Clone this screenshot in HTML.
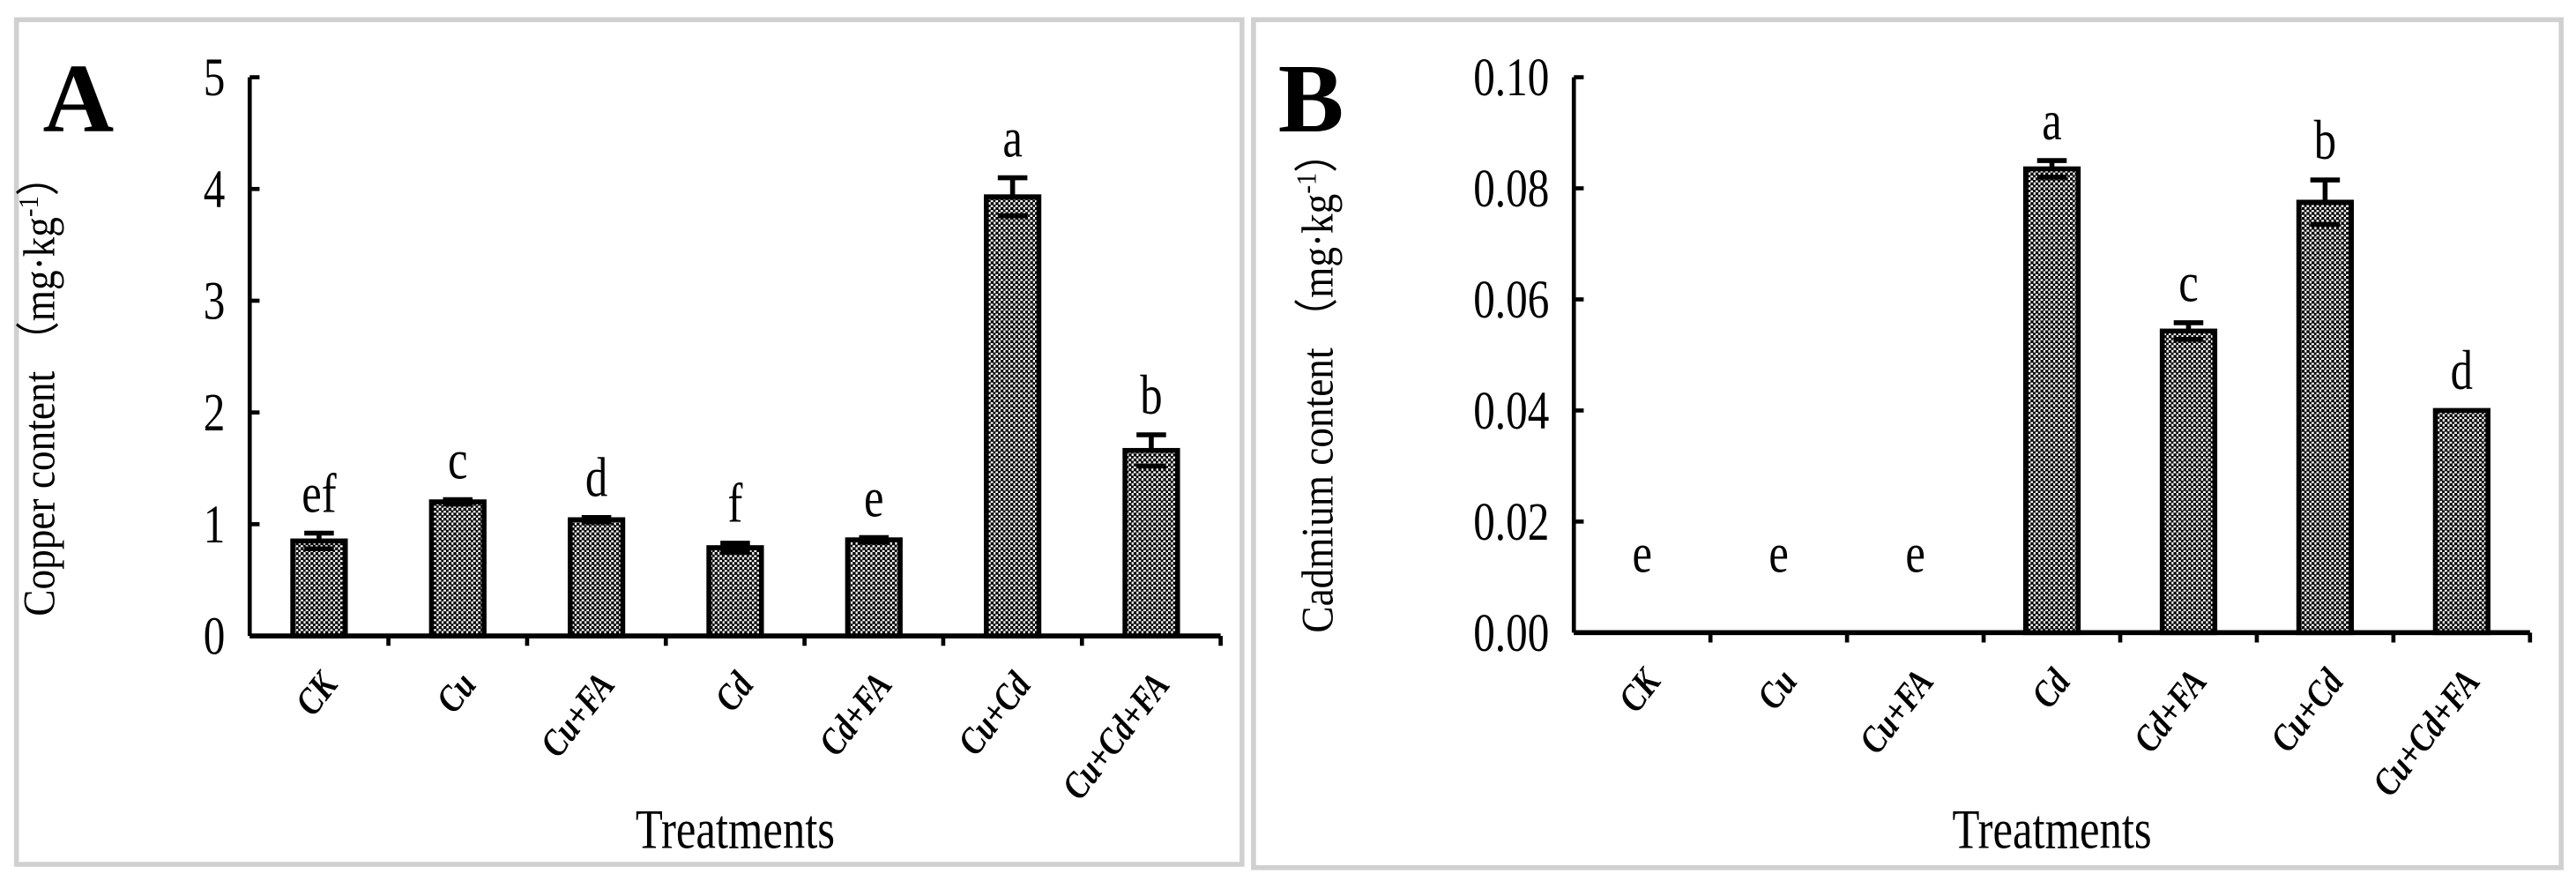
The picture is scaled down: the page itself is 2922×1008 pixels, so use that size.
<!DOCTYPE html>
<html><head><meta charset="utf-8"><style>
html,body{margin:0;padding:0;background:#fff}
svg{display:block}
text{font-family:"Liberation Serif",serif;fill:#000}
</style></head><body>
<svg id="chart" width="2922" height="1008" viewBox="0 0 1568 541" preserveAspectRatio="none" xmlns="http://www.w3.org/2000/svg">
<defs>
<pattern id="chk" width="3" height="3" patternUnits="userSpaceOnUse">
<rect width="3" height="3" fill="#fff"/>
<rect width="1.8" height="1.8" fill="#000"/>
<rect x="1.5" y="1.5" width="1.5" height="1.5" fill="#000"/>
</pattern>
</defs>
<rect x="10" y="12" width="746" height="514" fill="none" stroke="#d0d0d0" stroke-width="3"/>
<rect x="763" y="12" width="796" height="516" fill="none" stroke="#d0d0d0" stroke-width="3"/>
<g id="gA"></g>
<g id="gB"></g>
</svg>
<script>
const categories = ["CK","Cu","Cu+FA","Cd","Cd+FA","Cu+Cd","Cu+Cd+FA"];
const copperValues = [0.85,1.20,1.04,0.79,0.86,3.93,1.66];
const copperErrors = [0.07,0.02,0.02,0.04,0.02,0.17,0.14];
const copperLetters = ["ef","c","d","f","e","a","b"];
const copperTicks = ["0","1","2","3","4","5"];
const cadmiumValues = [0,0,0,0.0835,0.0543,0.0775,0.0400];
const cadmiumErrors = [0,0,0,0.0015,0.0015,0.0040,0];
const cadmiumLetters = ["e","e","e","a","c","b","d"];
const cadmiumTicks = ["0.00","0.02","0.04","0.06","0.08","0.10"];

const NS="http://www.w3.org/2000/svg";
function mk(parent,tag,attrs,txt){const e=document.createElementNS(NS,tag);for(const k in attrs)e.setAttribute(k,attrs[k]);if(txt!==undefined)e.textContent=txt;parent.appendChild(e);return e;}
const SX=0.8;

function panel(g,cfg){
  const {x0,x1,yTop,yZero,max,vals,errs,letters,ticks,label,labelX,title,titleX,prefix}=cfg;
  const y=v=>yZero-(v/max)*(yZero-yTop);
  const bw=(x1-x0)/categories.length;
  const xc=i=>x0+bw*(i+0.5);
  const pl=mk(g,'text',{x:labelX,y:80,'font-size':60,'font-weight':'bold'},label);
  
  
  const ya=mk(g,'line',{x1:x0,y1:yTop,x2:x0,y2:yZero,stroke:'#000','stroke-width':2.5});
  
  
  ticks.forEach((t,i)=>{
    const v=max*i/(ticks.length-1);
    const tk=mk(g,'line',{x1:x0,y1:y(v),x2:x0+6,y2:y(v),stroke:'#000','stroke-width':2.5});
    
    
    const tl=mk(g,'text',{x:0,y:0,'font-size':33,'text-anchor':'end',transform:`translate(${x0-15},${y(v)+11}) scale(${SX},1)`},t);
    
    
  });
  const xa=mk(g,'line',{x1:x0,y1:yZero,x2:x1,y2:yZero,stroke:'#000','stroke-width':3});
  
  
  for(let i=1;i<=categories.length;i++){
    const tk=mk(g,'line',{x1:x0+bw*i,y1:yZero,x2:x0+bw*i,y2:yZero+6,stroke:'#000','stroke-width':2.5});
    
    
  }
  categories.forEach((c,i)=>{
    const v=vals[i],e=errs[i],cx=xc(i),w=32;
    if(v>0){
      const b=mk(g,'rect',{x:cx-w/2,y:y(v),width:w,height:yZero-y(v),fill:'url(#chk)',stroke:'#000','stroke-width':3});
      
      
    }
    if(e>0){
      const eb=mk(g,'path',{d:`M${cx},${y(v)} V${y(v+e)} M${cx-9},${y(v+e)} H${cx+9} M${cx-9},${y(v-e)} H${cx+9}`,stroke:'#000','stroke-width':3,fill:'none'});
      
      
    }
    const top=v>0?y(v+e):yZero-24;
    const lt=mk(g,'text',{x:0,y:0,'font-size':34,'text-anchor':'middle',transform:`translate(${cx},${top-13}) scale(${SX},1)`},letters[i]);
    
    
    const xl=mk(g,'text',{x:0,y:0,'font-size':23,'font-style':'italic','font-weight':'bold','text-anchor':'end',transform:`translate(${cx+12},${yZero+30}) rotate(-52) scale(0.82,1)`},c);
    
    
  });
  const xt=mk(g,'text',{x:0,y:0,'font-size':34,'text-anchor':'middle',transform:`translate(${(x0+x1)/2},516) scale(${SX},1)`},'Treatments');
  
  
  const yt=mk(g,'text',{x:0,y:0,'font-size':27,'text-anchor':'middle',transform:`translate(${titleX},${yZero-152}) rotate(-90) scale(0.9,1)`});
  
  
  mk(yt,'tspan',{},title+'（mg·kg');
  mk(yt,'tspan',{dy:-10,'font-size':17},'-1');
  mk(yt,'tspan',{dy:10},'）');
}
panel(document.getElementById('gA'),{x0:152,x1:743,yTop:47,yZero:387,max:5,vals:copperValues,errs:copperErrors,letters:copperLetters,ticks:copperTicks,label:'A',labelX:26,title:'Copper content ',titleX:33,prefix:'panel-a'});
panel(document.getElementById('gB'),{x0:958,x1:1540,yTop:47,yZero:385,max:0.10,vals:cadmiumValues,errs:cadmiumErrors,letters:cadmiumLetters,ticks:cadmiumTicks,label:'B',labelX:778,title:'Cadmium content ',titleX:811,prefix:'panel-b'});
</script>
</body></html>
